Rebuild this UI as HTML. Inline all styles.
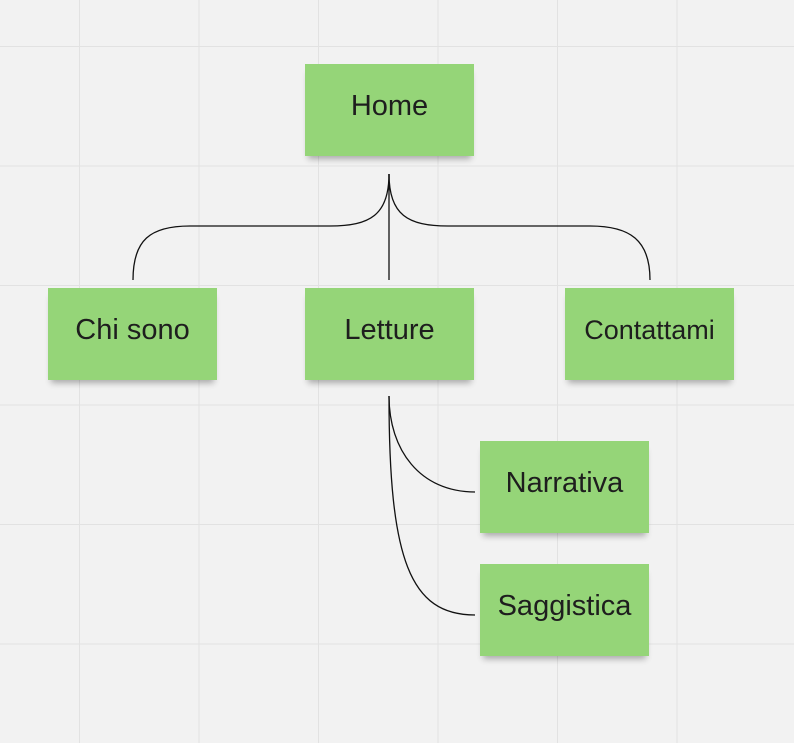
<!DOCTYPE html>
<html><head><style>
body{margin:0;width:794px;height:743px;overflow:hidden;background:#f2f2f2;position:relative;
background-image:linear-gradient(to right,#e2e2e2 1px,transparent 1px),linear-gradient(to bottom,#e2e2e2 1px,transparent 1px);
background-size:119.5px 119.5px;background-position:79px 46px;font-family:"Liberation Sans",sans-serif}
.n{position:absolute;width:169px;height:92px;box-sizing:border-box;padding-bottom:8px;background:#95d578;display:flex;align-items:center;justify-content:center;
font-size:29px;color:#1e1e1e;box-shadow:0 6px 6px -3px rgba(0,0,0,.3)}
svg{position:absolute;left:0;top:0}
</style></head><body>
<svg width="794" height="743"><g fill="none" stroke="#111" stroke-width="1.3">
<path d="M389 174 V280"/>
<path d="M389 174 C389 215 370 226 330 226 H190 C150 226 133 240 133 280"/>
<path d="M389 174 C389 215 408 226 448 226 H590 C630 226 650 240 650 280"/>
<path d="M389 396 C389 450 420 492 475 492"/>
<path d="M389 396 C389 560 410 615 475 615"/>
</g></svg>
<div class="n" style="left:305px;top:64px">Home</div>
<div class="n" style="left:48px;top:288px">Chi sono</div>
<div class="n" style="left:305px;top:288px">Letture</div>
<div class="n" style="left:565px;top:288px;font-size:27px">Contattami</div>
<div class="n" style="left:480px;top:441px">Narrativa</div>
<div class="n" style="left:480px;top:564px">Saggistica</div>
</body></html>
